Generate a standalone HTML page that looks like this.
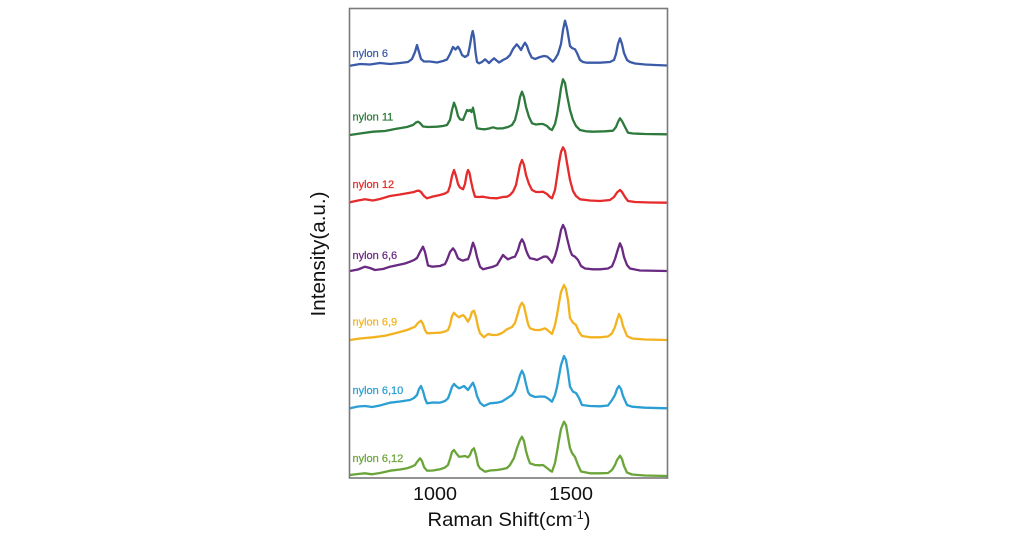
<!DOCTYPE html>
<html>
<head>
<meta charset="utf-8">
<style>
  html, body { margin:0; padding:0; background:#ffffff; }
  body { width:1020px; height:546px; overflow:hidden; }
  svg { display:block; }
  text { font-family: "Liberation Sans", Arial, sans-serif; }
  polyline { fill:none; stroke-width:2.3; stroke-linejoin:round; stroke-linecap:round; }
  .lab { font-size:11px; stroke-width:0.25; }
</style>
</head>
<body>
<svg width="1020" height="546" viewBox="0 0 1020 546" xmlns="http://www.w3.org/2000/svg">
  <rect x="0" y="0" width="1020" height="546" fill="#ffffff"/>

  <!-- nylon 6 -->
  <polyline stroke="#3b5ba8" points="350,65.7 360,64 370,64.5 380,63 390,64 400,63 408,62 412,59 415,52 417,45 419,52 421,59 424,61.5 430,61.5 437,62.5 443,61 447,59.5 450,54 453,47 455.5,49.5 458,46.7 460,50 462,55 465,57 468,55 470,45 471.5,36 472.7,31 474,37 475.5,52 477,62 479,63.3 482,62 485,59.3 488,62 489,63 491,61 494,58.3 496,60 499,62.5 503,60 507,58 510,55 513,49 516.7,44.3 519,47 521,50 523,46 525,42.7 527,46 529,52 531.7,57.5 535,59 540,57 544,56 547,56.5 550,59 552.7,61.7 555,59 558,54 561,44 563,30 565,20.7 567,28 569,40 570,46 572,48 575,49.3 577,53 580,60 583,62 587,62.7 600,62.7 610,62 614,60 616,54 618,44 620,38.3 622,44 624,53 627,60 630,62 635,63.5 645,64.5 655,65 667,65.5"/>
  <!-- nylon 11 -->
  <polyline stroke="#2d7a3c" points="350,135 360,133.5 373,131.7 385,131 395,129 407,127 413,125 416,122.5 418,121.7 420,123 423,126.5 428,127 437,126.7 443,126 447,125 450,120 452,110 454,102.7 456,108 458,116 460,119.3 463,120 465,115 467,110 468.5,111 470,110 471.5,112 473,107.7 474.5,115 476,124 477,128.3 481,129 485,129.3 489,128.5 493,127.3 497,128.5 503,128.3 508,127 512,125 515,120 518,108 520,97 522,91.7 524,97 526,107 529,117 532,123.3 536,124.5 540,124 543,124 547,126 550,129 552,130 555,124 557,115 559,102 561,88 563,79.3 565,83 567,95 570,110 573,120 576,126 580,130 586,131.3 593,131.7 605,131.3 613,130.7 616,127 618,122 620,118.3 622,121 625,127 628,132.7 633,133.5 645,134 667,134.3"/>
  <!-- nylon 12 -->
  <polyline stroke="#e52b2b" points="350,202.3 358,200.5 365,199.3 373,200.5 380,199 390,196 400,194.5 410,192.7 414,192 417,190.8 419,190.7 421,192 424,196 427,198.3 433,196.5 440,195 445,193.5 448,191.7 450,186 452,176 454,170 456,176 458,184 460,187.5 463,189.3 465,184 466.5,175 468,170 469.5,173 471,181 473,190 475,196.7 479,197 483,196.7 490,198 497,198.3 503,197 507,196.7 510,195 513,191.7 516,185 518,175 520,165 522,160 524,165 526,175 529,184 532,190 536,192 540,192 543,191.7 547,194 550,197 552,198.3 555,190 557,177 559,163 561,152 563,147.3 565,151 567,163 570,180 573,191 576,196 580,199.3 590,200.5 600,201 610,200 614,197 617,192.5 620,190 622,192 625,197 628,201 635,202 650,202.5 667,202.7"/>
  <!-- nylon 6,6 -->
  <polyline stroke="#6a2a82" points="350,271 358,269.5 365,266.7 370,268 375,270 383,269 390,266.7 398,265 405,263.5 410,261.7 414,260 417,258 420,252 423,246.7 425,252 427,261 428,265.5 432,266.7 440,266 445,264 447,260 450,252 453,248.3 455,251 458,258.3 461,260 463,260.7 466,259.5 468,259.3 470,254 472,246 473,242.7 475,248 477,257 480,266.7 483,269.3 488,268 493,266.7 497,265 500,260 503,255 505,257 508,259.3 512,257.5 515,256.7 518,250 520,243 522,239.3 524,243 526,250 528,255 530,258.3 534,259 537,260 541,258 544,256.5 547,256.7 550,260 552,262.7 555,256 557,249 559,240 561,230 563,225 565,229 567,238 570,250 572,255 575,256.7 578,260 581,266 585,268.5 593,269.3 600,269.3 608,268.5 612,266.3 615,259 618,249 620,243.3 622,248 624,257 627,265 630,268.5 640,270.5 667,271"/>
  <!-- nylon 6,9 -->
  <polyline stroke="#f3b320" points="350,340 360,338.5 373,337.3 385,335.7 398,332.5 407,330 412,328 415,326.7 418,323 421,320.7 423,324 425,330 427,333.3 433,333 440,332.7 445,331.5 448,330 450,325 452,316 454,312.7 456,315 459,317.3 461,316 463,315 465,317 468,321.7 470,318 472,312 474,310.7 476,317 478,327 480,333.3 484,337.3 488,334 492,335 497,335 502,333 507,329.3 512,327 515,323 518,313 520,306 522,302.7 524,306 526,315 528,324 530,328.3 535,330 540,330 545,328.3 548,330.5 552,334 555,325 557,315 559,303 561,292 564,285 566,289 568,300 570,318 573,322.7 576,325 579,332 582,336 590,337.3 600,337.3 608,336.5 612,333.3 615,327 617,320 619,314 621,318 623,326 627,336 632,338.5 645,339.5 667,340"/>
  <!-- nylon 6,10 -->
  <polyline stroke="#2b9fd3" points="350,408.3 358,406.5 365,406 372,407 380,405.5 390,402.7 400,401.5 410,400 414,398 417,395 419,389 421,386 423,391 425,398.5 427,403.3 433,402.5 440,402.7 445,401 448,398.3 450,393 452,387 454,384 456,386 459,388.3 461,387.5 464,386 466,388 468,390 470,387 472,384 473,382.7 475,388 477,396 480,402.7 484,406 490,403.3 497,402.7 502,401.5 507,398.3 512,395 515,391 518,382 520,375 522,370.7 524,375 526,384 528,392 530,395 535,397 540,396.5 545,396.7 548,398.5 552,401.7 555,395 557,387 559,376 561,365 564,356 566,360 568,372 570,386.7 573,391.7 576,393 579,398 582,405 590,406 600,406.3 608,405.5 612,400 615,395 617,389 619,386 621,389 623,396 627,405 632,406.7 645,407.7 667,408.3"/>
  <!-- nylon 6,12 -->
  <polyline stroke="#6ba53a" points="350,475 358,474 365,473.3 372,474.3 380,473 390,470.7 400,469.5 407,468.3 412,466.5 415,465 417,462 420,458.3 422,461 424,467 427,470.7 433,470.5 440,469.3 445,467.5 448,465 450,459 452,452 454,450 456,453 459,456.7 462,456.5 465,456 468,457.3 470,455 472,450 474,448.3 476,455 478,465 480,468.3 485,471.7 490,470.5 497,470 503,469 507,468 510,465 514,458 517,448 520,440 522,436.7 524,441 526,451 528,458 530,463.3 535,465 540,465.3 543,465 547,468 550,470.5 552,471.7 555,463 557,452 559,440 561,429 564,421.7 566,425 568,437 570,448 572,453 575,457 578,465 581,471.5 590,473.3 600,473.3 608,473 612,470 615,465 617,460 620,455.7 622,459 624,466 627,472.5 632,474.5 645,475.5 667,476"/>

  <!-- frame -->
  <rect x="349.5" y="8.5" width="318" height="469.5" fill="none" stroke="#7a7a7a" stroke-width="1.6"/>

  <!-- series labels -->
  <text class="lab" x="352.5" y="57" fill="#3b5ba8" stroke="#3b5ba8">nylon 6</text>
  <text class="lab" x="352.5" y="120.5" fill="#2d7a3c" stroke="#2d7a3c">nylon 11</text>
  <text class="lab" x="352.5" y="188" fill="#e52b2b" stroke="#e52b2b">nylon 12</text>
  <text class="lab" x="352.5" y="259" fill="#6a2a82" stroke="#6a2a82">nylon 6,6</text>
  <text class="lab" x="352.5" y="325.5" fill="#f3b320" stroke="#f3b320">nylon 6,9</text>
  <text class="lab" x="352.5" y="394" fill="#2b9fd3" stroke="#2b9fd3">nylon 6,10</text>
  <text class="lab" x="352.5" y="462" fill="#6ba53a" stroke="#6ba53a">nylon 6,12</text>

  <!-- tick labels -->
  <text x="435" y="500" font-size="18" fill="#111" text-anchor="middle" textLength="44" lengthAdjust="spacingAndGlyphs">1000</text>
  <text x="571" y="500" font-size="18" fill="#111" text-anchor="middle" textLength="44" lengthAdjust="spacingAndGlyphs">1500</text>

  <!-- axis titles -->
  <text x="509" y="526" font-size="19.5" fill="#111" text-anchor="middle" textLength="163" lengthAdjust="spacingAndGlyphs">Raman Shift(cm<tspan font-size="12" dy="-7">-1</tspan><tspan dy="7">)</tspan></text>
  <text transform="translate(325,254) rotate(-90)" x="0" y="0" font-size="20.5" fill="#111" text-anchor="middle" textLength="125" lengthAdjust="spacingAndGlyphs">Intensity(a.u.)</text>
</svg>
</body>
</html>
